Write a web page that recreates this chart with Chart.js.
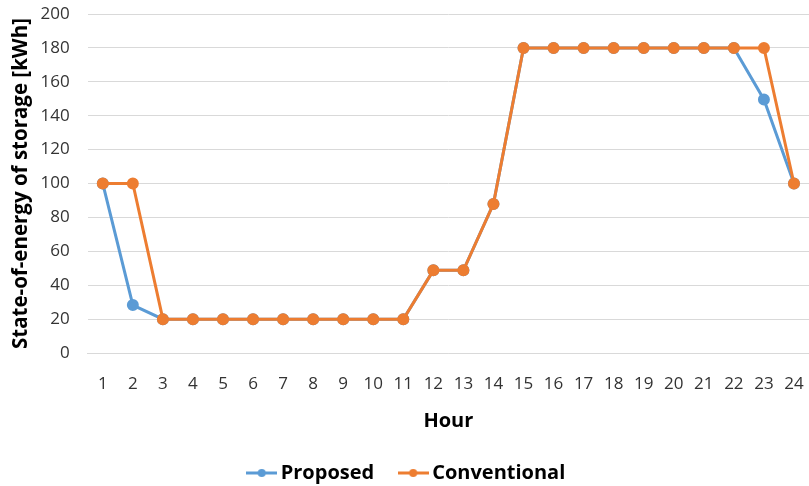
<!DOCTYPE html>
<html><head><meta charset="utf-8">
<script src="https://cdn.jsdelivr.net/npm/chart.js@4/dist/chart.umd.min.js"></script>
<style>html,body{margin:0;padding:0;background:#fff;overflow:hidden}#wrap{width:809px;height:486px;position:relative}canvas{display:block}</style>
</head><body><div id="wrap"><canvas id="c"></canvas></div>
<script>
const hours = ['1','2','3','4','5','6','7','8','9','10','11','12','13','14','15','16','17','18','19','20','21','22','23','24'];
const proposed = [100,28.3,20,20,20,20,20,20,20,20,20,48.8,48.8,88,180,180,180,180,180,180,180,180,149.6,100];
const conventional = [100,100,20,20,20,20,20,20,20,20,20,48.8,48.8,88,180,180,180,180,180,180,180,180,180,100];
const yTicks = {min:0,max:200,step:20};
const blue = '#5B9BD5', orange = '#ED7D31';
function legendIcon(color){
  const c=document.createElement('canvas');c.width=31;c.height=10;
  const g=c.getContext('2d');g.strokeStyle=color;g.lineWidth=3;g.beginPath();g.moveTo(0,5);g.lineTo(31,5);g.stroke();
  g.fillStyle=color;g.beginPath();g.arc(15.5,5,4,0,Math.PI*2);g.fill();return c;
}
const icons=[legendIcon(blue),legendIcon(orange)];
Chart.defaults.font.family = "'Open Sans','Noto Sans',sans-serif";
new Chart(document.getElementById('c'),{
  type:'line',
  data:{labels:hours,datasets:[
    {label:'Proposed',data:proposed,borderColor:blue,backgroundColor:blue,borderWidth:3,pointRadius:4.5,pointHoverRadius:4.5,tension:0,order:2},
    {label:'Conventional',data:conventional,borderColor:orange,backgroundColor:orange,borderWidth:3,pointRadius:4.5,pointHoverRadius:4.5,tension:0,order:1}
  ]},
  options:{
    responsive:true,maintainAspectRatio:false,animation:false,
    layout:{autoPadding:false,padding:{top:14,right:0,left:9,bottom:-7}},
    plugins:{
      tooltip:{enabled:false},
      legend:{position:'bottom',labels:{usePointStyle:true,pointStyleWidth:18,color:'#000',font:{size:20,weight:'bold'},padding:30,
        generateLabels:(ch)=>ch.data.datasets.map((d,i)=>({text:d.label,pointStyle:icons[i],fillStyle:d.borderColor,strokeStyle:d.borderColor,lineWidth:0,datasetIndex:i,hidden:false,fontColor:'#000'}))}}
    },
    scales:{
      x:{offset:true,grid:{display:false,drawTicks:true,tickLength:20.5},border:{display:true,color:'#D9D9D9'},
        afterFit:(s)=>{s.paddingLeft=0;s.paddingRight=0;},
        ticks:{color:'#333',font:{size:17},padding:0,maxRotation:0,autoSkip:false},
        title:{display:true,text:'Hour',color:'#000',font:{size:20,weight:'bold'},padding:{top:15,bottom:0}}},
      y:{min:yTicks.min,max:yTicks.max,grid:{color:'#D9D9D9',lineWidth:1,drawTicks:true,tickLength:18,tickColor:'rgba(0,0,0,0)'},border:{display:false},
        ticks:{stepSize:yTicks.step,color:'#333',font:{size:17},padding:0},
        title:{display:true,text:'State-of-energy of storage [kWh]',color:'#000',font:{size:20.5,weight:'bold'},padding:{top:0,bottom:7}}}
    }
  }
});
</script></body></html>
